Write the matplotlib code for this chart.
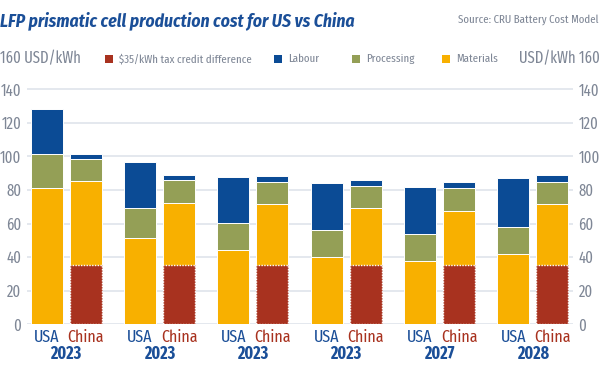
import matplotlib
matplotlib.use('Agg')
import matplotlib.pyplot as plt
from matplotlib.patches import Rectangle
import numpy as np

plt.rcParams['font.family'] = ['Fira Sans Extra Condensed', 'DejaVu Sans']

# data (USD/kWh)
years = ['2023', '2023', '2023', '2023', '2027', '2028']
usa_materials = [81, 51.5, 44, 40, 37.5, 42]
usa_processing = [20.5, 18, 16.5, 16, 16, 16]
usa_labour = [26.5, 27, 27, 28, 28.5, 29]
china_materials = [85.5, 72.5, 71.5, 69, 67.5, 71.5]
china_processing = [13, 13.5, 13, 13.5, 13.5, 13.5]
china_labour = [3, 3, 3.5, 3.5, 4, 4]
china_tax_credit = [35, 35, 35, 35, 35, 35]
yticks = [0, 20, 40, 60, 80, 100, 120, 140]

c_mat = '#f8b000'
c_proc = '#949f56'
c_lab = '#0b4b95'
c_tax = '#a8321f'
c_blue = '#1b4f98'
c_grey = '#7f8796'

fig = plt.figure(figsize=(6, 3.81), dpi=100)
ax = fig.add_axes([0.045, 0.149, 0.91, 0.705])

x = np.arange(len(years))
off = 0.21
w = 0.343

for pos, mat, proc, lab in [(x - off, usa_materials, usa_processing, usa_labour),
                            (x + off, china_materials, china_processing, china_labour)]:
    mat = np.array(mat)
    proc = np.array(proc)
    ax.bar(pos, mat, w, color=c_mat, edgecolor='white', linewidth=0.7, zorder=3)
    ax.bar(pos, proc, w, bottom=mat, color=c_proc, edgecolor='white', linewidth=0.7, zorder=3)
    ax.bar(pos, lab, w, bottom=mat + proc, color=c_lab, edgecolor='white', linewidth=0.7, zorder=3)

ax.bar(x + off, china_tax_credit, w, color=c_tax, edgecolor='white', linewidth=1.0,
       linestyle=(0, (1, 1)), zorder=5)

ax.set_xlim(-0.42, 5.43)
ax.set_ylim(0, 160)
ax.set_yticks(yticks)
ax.grid(axis='y', color='#dde2ea', linewidth=1.1, zorder=0)
ax.set_axisbelow(True)
for s in ax.spines.values():
    s.set_visible(False)
ax.tick_params(axis='y', length=0, labelsize=11.5, labelcolor=c_grey, labelright=True, pad=4)
ax.tick_params(axis='x', length=0)
ax.set_xticks([])

for i in range(len(years)):
    ax.annotate('USA', (x[i] - off, 0), xytext=(0, -9.5), textcoords='offset points',
                ha='center', va='center', fontsize=12.5, color=c_blue)
    ax.annotate('China', (x[i] + off, 0), xytext=(0, -9.5), textcoords='offset points',
                ha='center', va='center', fontsize=12.5, color=c_tax)
    ax.annotate(years[i], (x[i], 0), xytext=(0, -21), textcoords='offset points',
                ha='center', va='center', fontsize=12.5, color=c_blue, fontweight='bold')

# header
fig.text(0.0, 0.947, 'LFP prismatic cell production cost for US vs China', fontsize=12.7,
         fontweight='bold', fontstyle='italic', color=c_blue, ha='left', va='center',
         family=['Fira Sans Condensed', 'DejaVu Sans'])
fig.text(0.998, 0.949, 'Source: CRU Battery Cost Model', fontsize=8.5, color=c_grey,
         ha='right', va='center')
fig.text(0.0, 0.846, '160 USD/kWh', fontsize=11.5, color=c_grey, ha='left', va='center')
fig.text(1.0, 0.846, 'USD/kWh 160', fontsize=11.5, color=c_grey, ha='right', va='center')

legend_items = [('$35/kWh tax credit difference', c_tax, 105),
                ('Labour', c_lab, 274),
                ('Processing', c_proc, 352),
                ('Materials', c_mat, 442)]
for label, col, px in legend_items:
    fig.patches.append(Rectangle((px / 600, 0.834), 8 / 600, 8 / 381, transform=fig.transFigure,
                                 facecolor=col, edgecolor='none'))
    fig.text((px + 14) / 600, 0.845, label, fontsize=8.5, color=c_grey, ha='left', va='center')

fig.savefig('out.png', dpi=100)
